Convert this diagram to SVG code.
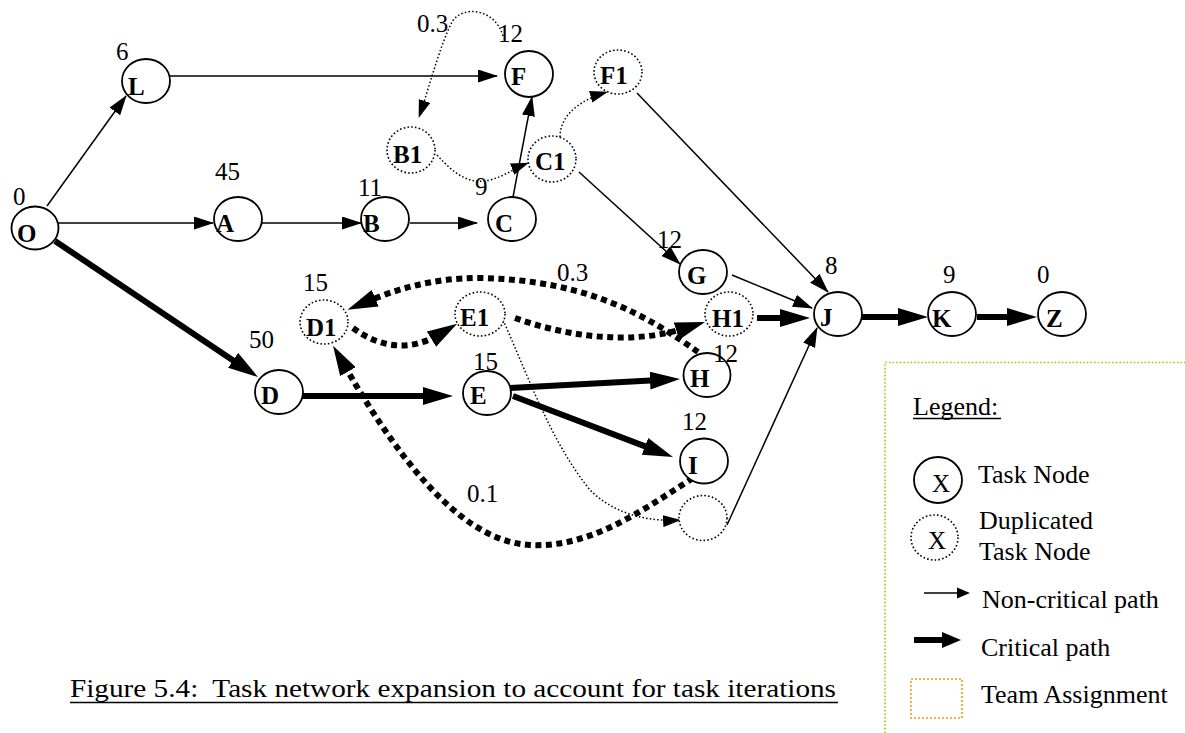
<svg xmlns="http://www.w3.org/2000/svg" width="1185" height="733" viewBox="0 0 1185 733">
  <style>
    .node { fill: #fff; stroke: #000; stroke-width: 1.8; }
    .dup { fill: #fff; stroke: #000; stroke-width: 1.6; stroke-dasharray: 1.6 2.2; }
    .lbl { font-family: "Liberation Serif", "Times New Roman", serif; font-weight: bold; font-size: 25px; fill: #000; }
    .num { font-family: "Liberation Serif", "Times New Roman", serif; font-size: 25px; fill: #000; }
    .leg { font-family: "Liberation Serif", "Times New Roman", serif; font-size: 26px; fill: #000; }
    .thin { fill: none; stroke: #000; stroke-width: 1.5; marker-end: url(#ah-thin); }
    .thick { fill: none; stroke: #000; stroke-width: 6; marker-end: url(#ah-thick); }
    .dash { fill: none; stroke: #000; stroke-width: 6; stroke-dasharray: 6 4.5; marker-end: url(#ah-thick); }
    .dot { fill: none; stroke: #000; stroke-width: 1.5; stroke-dasharray: 1.5 2.2; marker-end: url(#ah-dot); }
  </style>
  <defs>
    <marker id="ah-thin" markerUnits="userSpaceOnUse" markerWidth="20" markerHeight="13" refX="19" refY="6.5" orient="auto">
      <path d="M0,0 L20,6.5 L0,13 z" fill="#000"/>
    </marker>
    <marker id="ah-thick" markerUnits="userSpaceOnUse" markerWidth="30" markerHeight="18" refX="10" refY="9" orient="auto">
      <path d="M0,0 L30,9 L0,18 z" fill="#000"/>
    </marker>
    <marker id="ah-dot" markerUnits="userSpaceOnUse" markerWidth="18" markerHeight="12" refX="17" refY="6" orient="auto">
      <path d="M0,0 L18,6 L0,12 z" fill="#000"/>
    </marker>
  </defs>
  <rect width="1185" height="733" fill="#fff"/>

  <!-- connectors -->
  <g id="connectors">
    <!-- non-critical paths -->
    <path class="thin" d="M47,206 L126,96"/>
    <path class="thin" d="M58,223 L213,223"/>
    <path class="thin" d="M262,223 L361,223"/>
    <path class="thin" d="M170,76 L497,76"/>
    <path class="thin" d="M410,223 L477,223"/>
    <path class="thin" d="M513,197 L532,97"/>
    <path class="thin" d="M579,172 L680,264"/>
    <path class="thin" d="M637,93 L828,292"/>
    <path class="thin" d="M732,275 L812,308"/>
    <path class="thin" d="M727,525 L817,328"/>
    <!-- critical paths -->
    <path class="thick" d="M55,241 L241.4,365.9"/>
    <path class="thick" d="M299,396 L433,396"/>
    <path class="thick" d="M510,388 L660,380.1"/>
    <path class="thick" d="M513,396 L654.3,449.9"/>
    <path class="thick" d="M757,318 L790,318"/>
    <path class="thick" d="M862,317 L908,317"/>
    <path class="thick" d="M977,317 L1017,317"/>
    <!-- iteration loops, critical -->
    <path class="dash" d="M698,352 C650,318 590,280 480,278 C430,278 395,290 366,302"/>
    <path class="dash" d="M353,328 C380,348 410,352 440,334"/>
    <path class="dash" d="M515,318 C565,336 630,346 686,328"/>
    <path class="dash" d="M693,478 C640,512 590,548 530,545 C470,542 410,480 343,363"/>
    <!-- iteration loops, non-critical -->
    <path class="dot" d="M503,36 C495,8 462,5 452,22 C440,45 430,85 419,117"/>
    <path class="dot" d="M437,155 C455,175 470,185 490,180 C505,176 515,168 528,163"/>
    <path class="dot" d="M560,137 C560,115 580,100 607,92"/>
    <path class="dot" d="M503,320 C530,380 550,440 590,490 C615,515 650,522 680,520"/>
  </g>

  <!-- task nodes -->
  <g id="node-O"><ellipse class="node" cx="35" cy="228" rx="23.5" ry="21.5"/><text class="lbl" x="17" y="242">O</text><text class="num" x="13" y="205">0</text></g>
  <g id="node-L"><ellipse class="node" cx="146" cy="81" rx="24" ry="22"/><text class="lbl" x="128" y="95">L</text><text class="num" x="116" y="60">6</text></g>
  <g id="node-A"><ellipse class="node" cx="238" cy="219" rx="24" ry="22"/><text class="lbl" x="216" y="232">A</text><text class="num" x="215" y="180">45</text></g>
  <g id="node-B"><ellipse class="node" cx="385" cy="219" rx="24" ry="22"/><text class="lbl" x="363" y="232">B</text><text class="num" x="358" y="196">11</text></g>
  <g id="node-C"><ellipse class="node" cx="512" cy="219" rx="24" ry="22"/><text class="lbl" x="495" y="232">C</text><text class="num" x="475" y="195">9</text></g>
  <g id="node-F"><ellipse class="node" cx="529" cy="74" rx="24" ry="23"/><text class="lbl" x="511" y="85">F</text><text class="num" x="498" y="42">12</text></g>
  <g id="node-F1"><ellipse class="dup" cx="618" cy="72" rx="24" ry="22"/><text class="lbl" x="600" y="84">F1</text></g>
  <g id="node-B1"><ellipse class="dup" cx="411" cy="150" rx="24" ry="23"/><text class="lbl" x="393" y="163">B1</text><text class="num" x="417" y="32">0.3</text></g>
  <g id="node-C1"><ellipse class="dup" cx="552" cy="159" rx="24" ry="23"/><text class="lbl" x="535" y="170">C1</text></g>
  <g id="node-G"><ellipse class="node" cx="703" cy="272" rx="24" ry="22"/><text class="lbl" x="687" y="284">G</text><text class="num" x="657" y="248">12</text></g>
  <g id="node-D"><ellipse class="node" cx="279" cy="392" rx="24" ry="22"/><text class="lbl" x="261" y="404">D</text><text class="num" x="249" y="348">50</text></g>
  <g id="node-D1"><ellipse class="dup" cx="324" cy="322" rx="24" ry="22"/><text class="lbl" x="306" y="336">D1</text><text class="num" x="303" y="291">15</text></g>
  <g id="node-E"><ellipse class="node" cx="487" cy="393" rx="24" ry="22"/><text class="lbl" x="470" y="404">E</text><text class="num" x="473" y="370">15</text></g>
  <g id="node-E1"><ellipse class="dup" cx="480" cy="314" rx="25" ry="22"/><text class="lbl" x="460" y="326">E1</text><text class="num" x="557" y="281">0.3</text></g>
  <g id="node-H1"><ellipse class="dup" cx="729" cy="314" rx="24" ry="22"/><text class="lbl" x="712" y="327">H1</text></g>
  <g id="node-H"><ellipse class="node" cx="707" cy="375" rx="23.5" ry="22"/><text class="lbl" x="690" y="387">H</text><text class="num" x="713" y="362">12</text></g>
  <g id="node-I"><ellipse class="node" cx="704" cy="461" rx="24" ry="22.5"/><text class="lbl" x="688" y="474">I</text><text class="num" x="682" y="430">12</text><text class="num" x="467" y="502">0.1</text></g>
  <g id="node-blank"><ellipse class="dup" cx="703" cy="518" rx="24" ry="22.5"/></g>
  <g id="node-J"><ellipse class="node" cx="838" cy="314" rx="24" ry="22"/><text class="lbl" x="820" y="326">J</text><text class="num" x="825" y="274">8</text></g>
  <g id="node-K"><ellipse class="node" cx="952" cy="314" rx="24" ry="22"/><text class="lbl" x="932" y="327">K</text><text class="num" x="943" y="283">9</text></g>
  <g id="node-Z"><ellipse class="node" cx="1062" cy="314" rx="24" ry="22"/><text class="lbl" x="1046" y="327">Z</text><text class="num" x="1037" y="283">0</text></g>

  <!-- caption -->
  <g id="caption">
    <text class="num" x="70" y="697" font-size="28" textLength="766" lengthAdjust="spacingAndGlyphs" style="white-space:pre">Figure 5.4:  Task network expansion to account for task iterations</text>
    <line x1="70" y1="702.5" x2="838" y2="702.5" stroke="#000" stroke-width="1.5"/>
  </g>

  <!-- legend -->
  <g id="legend">
    <path d="M885,733 L885,362.5 L1185,362.5" fill="none" stroke="#99cc00" stroke-width="1.6" stroke-dasharray="1.6 2"/>
    <text class="leg" x="913" y="415">Legend:</text>
    <line x1="913" y1="418.5" x2="1001" y2="418.5" stroke="#000" stroke-width="1.5"/>
    <ellipse class="node" cx="938" cy="480" rx="24" ry="23"/>
    <text class="num" x="932" y="492" font-size="22">X</text>
    <text class="leg" x="978" y="483">Task Node</text>
    <ellipse class="dup" cx="934.5" cy="537.5" rx="23.5" ry="22.5"/>
    <text class="num" x="928" y="549" font-size="22">X</text>
    <text class="leg" x="979" y="529">Duplicated</text>
    <text class="leg" x="979" y="560">Task Node</text>
    <line x1="924" y1="593" x2="958" y2="593" stroke="#000" stroke-width="1.5"/>
    <path d="M957,587.5 L970,593 L957,598.5 z" fill="#000"/>
    <text class="leg" x="982" y="608">Non-critical path</text>
    <line x1="914" y1="640" x2="945" y2="640" stroke="#000" stroke-width="6"/>
    <path d="M942,632 L961,640 L942,648 z" fill="#000"/>
    <text class="leg" x="981" y="656">Critical path</text>
    <rect x="911" y="679" width="51" height="39" fill="none" stroke="#ff9900" stroke-width="1.6" stroke-dasharray="2 2"/>
    <text class="leg" x="981" y="703">Team Assignment</text>
  </g>
</svg>
